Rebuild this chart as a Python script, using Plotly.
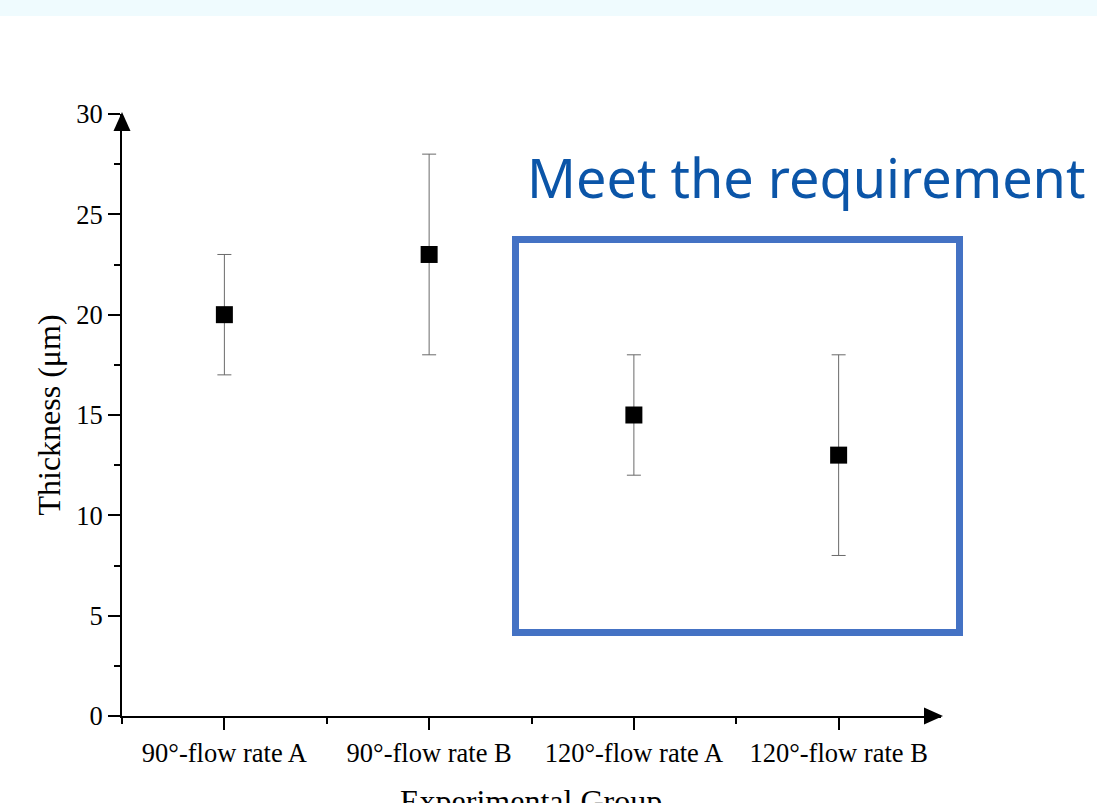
import plotly.graph_objects as go

categories = ["90°-flow rate A", "90°-flow rate B", "120°-flow rate A", "120°-flow rate B"]
thickness = [20, 23, 15, 13]
thickness_err = [3, 5, 3, 5]
y_ticks = [0, 5, 10, 15, 20, 25, 30]

positions = list(range(1, len(categories) + 1))

W, H = 1097, 803
L, R, T, B = 122, 156, 114, 87
pw, ph = W - L - R, H - T - B

def px(xp):
    return (xp - L) / pw

def py(yp):
    return (H - B - yp) / ph

fig = go.Figure()
fig.add_trace(go.Scatter(
    x=positions, y=thickness, mode="markers",
    marker=dict(symbol="square", size=17, color="black"),
    error_y=dict(type="data", array=thickness_err, visible=True,
                 color="#6a6a6a", thickness=1, width=7),
    showlegend=False, cliponaxis=False,
))

serif = "Liberation Serif, Times New Roman, serif"

fig.update_layout(
    width=W, height=H,
    margin=dict(l=L, r=R, t=T, b=B, autoexpand=False),
    paper_bgcolor="white", plot_bgcolor="white",
    font=dict(family=serif, color="black", size=26),
    xaxis=dict(
        range=[0.5, 4.5], tickmode="array", tickvals=positions, ticktext=categories,
        showline=True, linecolor="black", linewidth=2,
        ticks="outside", ticklen=12, tickwidth=2, tickcolor="black",
        showgrid=False, zeroline=False,
        tickfont=dict(family=serif, size=26.5),
        minor=dict(tickmode="array", tickvals=[0.5, 1.5, 2.5, 3.5], ticks="outside",
                   ticklen=6, tickwidth=2, tickcolor="black", showgrid=False),
        automargin=False,
    ),
    yaxis=dict(
        range=[0, 30], tickmode="array", tickvals=y_ticks,
        showline=True, linecolor="black", linewidth=2,
        ticks="outside", ticklen=12, tickwidth=2, tickcolor="black",
        showgrid=False, zeroline=False,
        tickfont=dict(family=serif, size=26.5),
        minor=dict(tickmode="array", tickvals=[2.5, 7.5, 12.5, 17.5, 22.5, 27.5], ticks="outside",
                   ticklen=6, tickwidth=2, tickcolor="black", showgrid=False),
        title=dict(text="Thickness (μm)", font=dict(family=serif, size=32), standoff=6),
        automargin=False,
    ),
)

# x-axis title (partly cut by the bottom edge, as in the reference)
fig.add_annotation(text="Experimental Group", xref="paper", yref="paper",
                   x=px(531), y=py(781), xanchor="center", yanchor="top",
                   showarrow=False, font=dict(family=serif, size=32, color="black"))

# light band at top of page
fig.add_shape(type="rect", xref="paper", yref="paper",
              x0=px(0), x1=px(W), y0=py(16), y1=py(0),
              fillcolor="#effbfe", line=dict(width=0), layer="below")

# axis arrows
fig.add_shape(type="path", xref="paper", yref="paper",
              path=f"M {px(113.5)} {py(131)} L {px(122)} {py(112)} L {px(130.5)} {py(131)} Z",
              fillcolor="black", line=dict(width=0))
fig.add_shape(type="path", xref="paper", yref="paper",
              path=f"M {px(924)} {py(707.5)} L {px(943)} {py(716)} L {px(924)} {py(724.5)} Z",
              fillcolor="black", line=dict(width=0))

# highlight rectangle
fig.add_shape(type="rect", xref="paper", yref="paper",
              x0=px(515.5), x1=px(959.5), y0=py(632.5), y1=py(239.5),
              line=dict(color="#4472c4", width=7), fillcolor="rgba(0,0,0,0)")

fig.add_annotation(text="Meet the requirement", xref="paper", yref="paper",
                   x=px(525), y=py(177), xanchor="left", yanchor="middle",
                   showarrow=False,
                   font=dict(family="Noto Sans, Open Sans, sans-serif", size=54, color="#0b55a8"))

fig.write_html("out.html", config={"displayModeBar": False},
               post_script="document.body.style.margin='0';document.body.style.overflow='hidden';")
